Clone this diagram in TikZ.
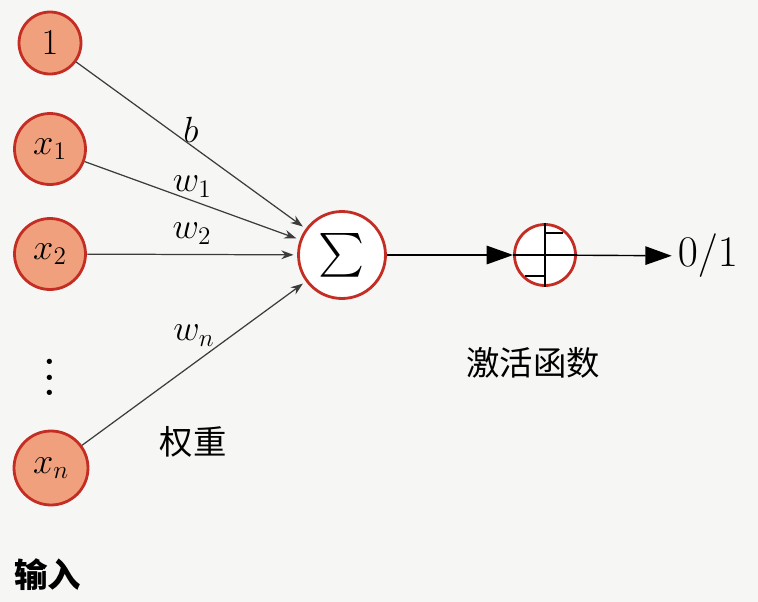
\documentclass[tikz,border=0pt]{standalone}
\usepackage{fontspec}
\usepackage{amsmath}
\usepackage{graphicx}
\usetikzlibrary{arrows.meta,positioning}
\newfontfamily\cjk{Noto Sans CJK SC}
\definecolor{nodefill}{RGB}{240,160,125}
\definecolor{noderim}{RGB}{196,45,35}
\definecolor{edgegray}{RGB}{60,60,60}
\definecolor{bggray}{RGB}{246,246,244}

\begin{document}
\begin{tikzpicture}[x=0.02cm,y=-0.02cm,
    input/.style={circle,draw=noderim,line width=1.6pt,fill=nodefill,inner sep=0pt,
      font=\fontsize{22.5}{26}\selectfont},
    unit/.style={circle,draw=noderim,line width=1.6pt,fill=white,inner sep=0pt},
    weight/.style={-{Stealth[length=7pt,width=5pt]},draw=edgegray,line width=0.7pt,shorten >=2pt},
    flow/.style={-{Triangle[length=15pt,width=10.5pt]},line width=0.8pt},
    lbl/.style={font=\fontsize{22.5}{26}\selectfont,inner sep=1.5pt},
    cn/.style={font=\cjk\fontsize{19}{22}\selectfont}]
  \fill[bggray] (0,0) rectangle (758,602);
  % inputs
  \node[input,minimum size=1.24cm] (one) at (50,43) {$1$};
  \node[input,minimum size=1.42cm] (x1) at (50,149) {$x_1$};
  \node[input,minimum size=1.42cm] (x2) at (50,254) {$x_2$};
  \node[font=\fontsize{14}{16}\selectfont,inner sep=0pt] (dots) at (50,366) {\scalebox{2.2}{$\vdots$}};
  \node[input,minimum size=1.48cm] (xn) at (51,468) {$x_n$};
  % sum and activation
  \node[unit,minimum size=1.74cm,font=\fontsize{23}{26}\selectfont] (sum) at (342,255) {$\sum$};
  \node[unit,minimum size=1.22cm] (act) at (545,255) {};
  \node[font=\fontsize{26}{30}\selectfont] (out) at (708,256) {$0/1$};
  \draw[line width=1.2pt] (act.west) -- (act.east) (act.north) -- (act.south)
    ([yshift=0.44cm]act.center) -- ++(18,0)
    ([yshift=-0.42cm]act.center) -- ++(-20,0);
  % weights
  \draw[weight] (one) -- node[lbl,above]{$b$} (sum);
  \draw[weight] (x1) -- node[lbl,above]{$w_1$} (sum);
  \draw[weight] (x2) -- node[lbl,above=4pt]{$w_2$} (sum);
  \draw[weight] (xn) -- node[lbl,above=8pt]{$w_n$} (sum);
  \draw[flow] (sum) -- (act);
  \draw[flow] (act) -- (out);
  % captions
  \node[cn] (wlabel) at (193,442) {权重};
  \node[cn] (actlabel) at (533,363) {激活函数};
  \node[font=\cjk\bfseries\fontsize{19}{22}\selectfont] (inlabel) at (48,575) {输入};
\end{tikzpicture}
\end{document}
